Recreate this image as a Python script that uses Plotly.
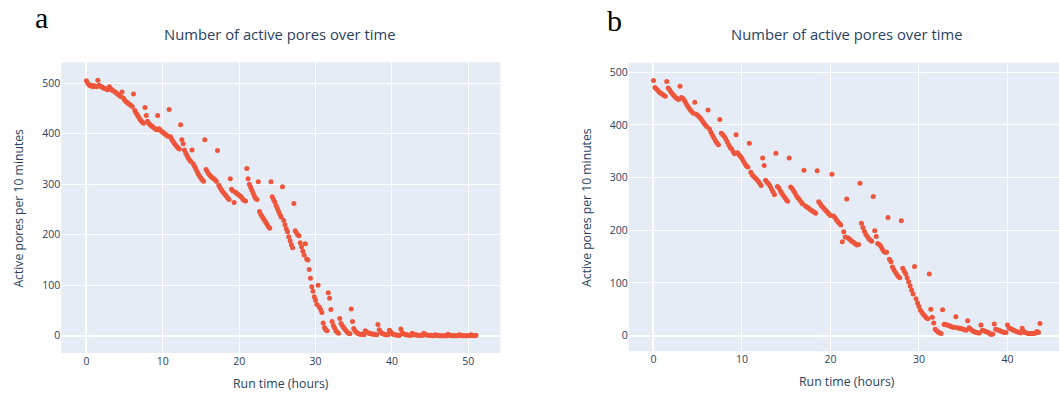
import plotly.graph_objects as go

# ---------------- Panel a data (sample time in minutes, active pores per 10 min) ----------------
minutes_a = [
    0, 10, 20, 30, 40, 50, 60, 70, 80, 90, 100, 110, 120, 130, 140, 150, 160, 170,
    180, 190, 200, 210, 220, 230, 240, 250, 260, 270, 280, 290, 300, 310, 320, 330, 340, 350,
    360, 370, 380, 390, 400, 410, 420, 430, 440, 450, 460, 470, 480, 490, 500, 510, 520, 530,
    540, 550, 560, 570, 580, 590, 600, 610, 620, 630, 640, 650, 660, 670, 680, 690, 700, 710,
    720, 730, 740, 750, 760, 770, 780, 790, 800, 810, 820, 830, 840, 850, 860, 870, 880, 890,
    900, 910, 920, 930, 940, 950, 960, 970, 980, 990, 1000, 1010, 1020, 1030, 1040, 1050, 1060, 1070,
    1080, 1090, 1100, 1110, 1120, 1130, 1140, 1150, 1160, 1170, 1180, 1190, 1200, 1210, 1220, 1230, 1240, 1250,
    1260, 1270, 1280, 1290, 1300, 1310, 1320, 1330, 1340, 1350, 1360, 1370, 1380, 1390, 1400, 1410, 1420, 1430,
    1440, 1450, 1460, 1470, 1480, 1490, 1500, 1510, 1520, 1530, 1540, 1550, 1560, 1570, 1580, 1590, 1600, 1610,
    1620, 1630, 1640, 1650, 1660, 1670, 1680, 1690, 1700, 1710, 1720, 1730, 1740, 1750, 1760, 1770, 1780, 1790,
    1800, 1810, 1820, 1830, 1840, 1850, 1860, 1870, 1880, 1890, 1900, 1910, 1920, 1930, 1940, 1950, 1960, 1970,
    1980, 1990, 2000, 2010, 2020, 2030, 2040, 2050, 2060, 2070, 2080, 2090, 2100, 2110, 2120, 2130, 2140, 2150,
    2160, 2170, 2180, 2190, 2200, 2210, 2220, 2230, 2240, 2250, 2260, 2270, 2280, 2290, 2300, 2310, 2320, 2330,
    2340, 2350, 2360, 2370, 2380, 2390, 2400, 2410, 2420, 2430, 2440, 2450, 2460, 2470, 2480, 2490, 2500, 2510,
    2520, 2530, 2540, 2550, 2560, 2570, 2580, 2590, 2600, 2610, 2620, 2630, 2640, 2650, 2660, 2670, 2680, 2690,
    2700, 2710, 2720, 2730, 2740, 2750, 2760, 2770, 2780, 2790, 2800, 2810, 2820, 2830, 2840, 2850, 2860, 2870,
    2880, 2890, 2900, 2910, 2920, 2930, 2940, 2950, 2960, 2970, 2980, 2990, 3000, 3010, 3020, 3030, 3040, 3050,
    3060,
]
pores_a = [
    505, 500, 497, 495, 496, 493,  495, 494, 493, 506, 496, 494,  493, 491, 490, 489, 488, 487,
    493, 489, 487, 485, 484, 482,  480, 478, 476, 474, 483, 471,  467, 464, 462, 460, 458, 456,
    454, 479, 446, 441, 437, 433,  429, 426, 423, 421, 452, 436,  425, 421, 418, 416, 414, 412,
    410, 408, 436, 410, 407, 405,  403, 401, 399, 397, 395, 448,  394, 389, 385, 381, 378, 375,
    372, 370, 418, 388, 380, 368,  362, 357, 352, 348, 345, 368,  340, 335, 330, 325, 320, 316,
    312, 309, 306, 388, 329, 325,  321, 318, 315, 313, 311, 309,  306, 367, 298, 293, 289, 285,
    282, 279, 276, 273, 270, 311,  290, 287, 264, 284, 282, 280,  278, 276, 274, 270, 268, 267,
    331, 311, 300, 294, 288, 282,  276, 272, 270, 305, 246, 240,  236, 232, 228, 224, 220, 216,
    213, 305, 275, 270, 265, 258,  252, 246, 240, 235, 295, 228,  220, 212, 206, 196, 188, 180,
    174, 262, 208, 204, 200, 198,  184, 176, 168, 160, 182, 152,  150, 131, 114, 97, 88, 77,
    70, 62, 100, 57, 52, 46,  25, 16, 12, 10, 85, 74,  52, 28, 20, 15, 10, 7,
    5, 34, 24, 20, 16, 13,  10, 7, 5, 4, 53, 28,  14, 10, 7, 5, 4, 3,
    3, 3, 2, 10, 8, 6,  5, 4, 4, 3, 3, 3,  2, 22, 12, 8, 5, 4,
    3, 2, 2, 2, 11, 8,  5, 3, 2, 2, 1, 1,  1, 13, 6, 4, 3, 2,
    2, 1, 1, 1, 5, 3,  2, 2, 1, 1, 1, 1,  1, 5, 3, 2, 1, 1,
    1, 1, 0, 0, 2, 1,  1, 0, 0, 0, 0, 0,  0, 0, 3, 1, 1, 0,
    0, 0, 0, 0, 0, 2,  1, 0, 0, 0, 0, 0,  0, 0, 2, 1, 0, 0,
    1,
]

# ---------------- Panel b data ----------------
minutes_b = [
    0, 10, 20, 30, 40, 50, 60, 70, 80, 90, 100, 110, 120, 130, 140, 150, 160, 170,
    180, 190, 200, 210, 220, 230, 240, 250, 260, 270, 280, 290, 300, 310, 320, 330, 340, 350,
    360, 370, 380, 390, 400, 410, 420, 430, 440, 450, 460, 470, 480, 490, 500, 510, 520, 530,
    540, 550, 560, 570, 580, 590, 600, 610, 620, 630, 640, 650, 660, 670, 680, 690, 700, 710,
    720, 730, 740, 750, 760, 770, 780, 790, 800, 810, 820, 830, 840, 850, 860, 870, 880, 890,
    900, 910, 920, 930, 940, 950, 960, 970, 980, 990, 1000, 1010, 1020, 1030, 1040, 1050, 1060, 1070,
    1080, 1090, 1100, 1110, 1120, 1130, 1140, 1150, 1160, 1170, 1180, 1190, 1200, 1210, 1220, 1230, 1240, 1250,
    1260, 1270, 1280, 1290, 1300, 1310, 1320, 1330, 1340, 1350, 1360, 1370, 1380, 1390, 1400, 1410, 1420, 1430,
    1440, 1450, 1460, 1470, 1480, 1490, 1500, 1510, 1520, 1530, 1540, 1550, 1560, 1570, 1580, 1590, 1600, 1610,
    1620, 1630, 1640, 1650, 1660, 1670, 1680, 1690, 1700, 1710, 1720, 1730, 1740, 1750, 1760, 1770, 1780, 1790,
    1800, 1810, 1820, 1830, 1840, 1850, 1860, 1870, 1880, 1890, 1900, 1910, 1920, 1930, 1940, 1950, 1960, 1970,
    1980, 1990, 2000, 2010, 2020, 2030, 2040, 2050, 2060, 2070, 2080, 2090, 2100, 2110, 2120, 2130, 2140, 2150,
    2160, 2170, 2180, 2190, 2200, 2210, 2220, 2230, 2240, 2250, 2260, 2270, 2280, 2290, 2300, 2310, 2320, 2330,
    2340, 2350, 2360, 2370, 2380, 2390, 2400, 2410, 2420, 2430, 2440, 2450, 2460, 2470, 2480, 2490, 2500, 2510,
    2520, 2530, 2540, 2550, 2560, 2570, 2580, 2590, 2600, 2610, 2620,
]
pores_b = [
    484, 471, 468, 465, 462, 460,  458, 456, 454, 482, 470, 466,  462, 458, 455, 452, 450, 448,
    473, 452, 450, 446, 441, 436,  432, 428, 425, 422, 443, 420,  418, 415, 412, 408, 404, 400,
    397, 428, 392, 386, 380, 375,  370, 366, 362, 410, 384, 381,  378, 373, 368, 362, 357, 354,
    349, 345, 381, 347, 343, 340,  336, 331, 326, 322, 320, 365,  310, 305, 302, 299, 296, 293,
    289, 285, 337, 323, 295, 291,  288, 284, 278, 273, 268, 346,  283, 280, 275, 270, 266, 262,
    258, 255, 337, 282, 279, 275,  270, 265, 261, 258, 254, 250,  314, 246, 244, 242, 240, 238,
    236, 234, 232, 313, 254, 250,  246, 243, 240, 237, 234, 231,  228, 306, 227, 224, 220, 216,
    213, 210, 178, 197, 187, 259,  185, 183, 180, 178, 176, 174,  172, 173, 289, 213, 205, 198,
    192, 188, 184, 181, 179, 264,  199, 188, 175, 173, 170, 165,  160, 158, 158, 224, 145, 140,
    130, 125, 120, 116, 112, 110,  218, 128, 122, 117, 110, 102,  94, 86, 79, 131, 70, 62,
    55, 48, 44, 40, 37, 34,  32, 117, 50, 35, 24, 12,  9, 7, 5, 4, 49, 21,
    21, 20, 19, 18, 17, 16,  16, 36, 15, 14, 14, 13,  12, 11, 10, 28, 15, 12,
    10, 8, 7, 6, 5, 5,  20, 10, 9, 8, 7, 6,  4, 2, 3, 22, 12, 11,
    10, 9, 8, 7, 6, 6,  20, 15, 13, 12, 10, 9,  8, 7, 6, 5, 14, 8,
    6, 5, 4, 4, 4, 4,  4, 5, 8, 6, 23,
]

# axis tick values / labels
x_ticks_a = [0, 10, 20, 30, 40, 50]
x_ticks_b = [0, 10, 20, 30, 40]
y_ticks = [0, 100, 200, 300, 400, 500]

hours_a = [m / 60 for m in minutes_a]
hours_b = [m / 60 for m in minutes_b]

W, H = 1059, 393
def px(x):
    return x / W
def py(y):
    return 1 - y / H

MARKER = "#EF553B"
TXT = "#2a3f5f"
FONT = '"Open Sans", verdana, arial, sans-serif'

fig = go.Figure()
fig.add_trace(go.Scatter(x=hours_a, y=pores_a, mode="markers", xaxis="x", yaxis="y",
                         marker=dict(color=MARKER, size=5), showlegend=False))
fig.add_trace(go.Scatter(x=hours_b, y=pores_b, mode="markers", xaxis="x2", yaxis="y2",
                         marker=dict(color=MARKER, size=5), showlegend=False))

axis_common = dict(showgrid=True, gridcolor="white", zeroline=True, zerolinecolor="white",
                   zerolinewidth=2, tickfont=dict(size=10.5, color=TXT, family=FONT),
                   ticks="", showline=False)

fig.update_layout(
    width=W, height=H,
    margin=dict(l=0, r=0, t=0, b=0),
    paper_bgcolor="white",
    plot_bgcolor="#E5ECF6",
    font=dict(family=FONT, color=TXT),
    xaxis=dict(domain=[px(61.2), px(500.4)], range=[-3.3, 54.2], tickvals=x_ticks_a,
               anchor="y", **axis_common),
    yaxis=dict(domain=[py(353.0), py(62.3)], range=[-34.3, 541.6], tickvals=y_ticks,
               anchor="x", **axis_common),
    xaxis2=dict(domain=[px(628.7), 1.0], range=[-2.8, 45.82], tickvals=x_ticks_b,
                anchor="y2", **axis_common),
    yaxis2=dict(domain=[py(351.2), py(62.8)], range=[-29.6, 517.7], tickvals=y_ticks,
                anchor="x2", **axis_common),
)

ann = []
title_txt = "Number of active pores over time"
ann.append(dict(text=title_txt, x=px(279), y=py(34), xanchor="center", yanchor="middle",
                font=dict(size=14.8, color=TXT, family=FONT)))
ann.append(dict(text=title_txt, x=px(846), y=py(34), xanchor="center", yanchor="middle",
                font=dict(size=14.8, color=TXT, family=FONT)))
ann.append(dict(text="Run time (hours)", x=px(280.5), y=py(383), xanchor="center", yanchor="middle",
                font=dict(size=12.3, color=TXT, family=FONT)))
ann.append(dict(text="Run time (hours)", x=px(846.6), y=py(381), xanchor="center", yanchor="middle",
                font=dict(size=12.3, color=TXT, family=FONT)))
ann.append(dict(text="Active pores per 10 minutes", x=px(18.6), y=py(208), xanchor="center",
                yanchor="middle", textangle=-90, font=dict(size=12.2, color=TXT, family=FONT)))
ann.append(dict(text="Active pores per 10 minutes", x=px(586.4), y=py(207.5), xanchor="center",
                yanchor="middle", textangle=-90, font=dict(size=12.2, color=TXT, family=FONT)))
ann.append(dict(text="a", x=px(41), y=py(17), xanchor="center", yanchor="middle",
                font=dict(size=30, color="black", family="Liberation Serif, Times New Roman, serif")))
ann.append(dict(text="b", x=px(614.7), y=py(20), xanchor="center", yanchor="middle",
                font=dict(size=30, color="black", family="Liberation Serif, Times New Roman, serif")))
for a in ann:
    a.update(xref="paper", yref="paper", showarrow=False)
fig.update_layout(annotations=ann)

fig.write_html("out.html")
